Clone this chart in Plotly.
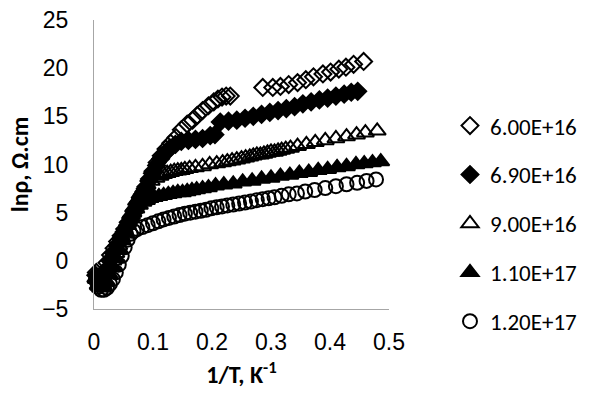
import plotly.graph_objects as go

# 1/T (K^-1) and ln(rho) for five doping levels
labels = ["6.00E+16", "6.90E+16", "9.00E+16", "1.10E+17", "1.20E+17"]

x_a = [0.004, 0.008, 0.012, 0.017, 0.022, 0.028, 0.034, 0.040, 0.046, 0.052,
       0.058, 0.064, 0.070, 0.076, 0.082, 0.088, 0.094, 0.100, 0.107, 0.114,
       0.122, 0.130, 0.139, 0.148, 0.158, 0.167, 0.175, 0.184, 0.194, 0.203,
       0.210, 0.217, 0.224, 0.231, 0.286, 0.303, 0.316, 0.330, 0.345, 0.359,
       0.372, 0.388, 0.401, 0.415, 0.427, 0.440, 0.457]
y_a = [-1.2, -1.9, -2.0, -1.2, -0.2, 0.6, 1.3, 2.0, 2.6, 3.3,
       4.0, 4.6, 5.3, 6.1, 6.9, 7.7, 8.5, 9.3, 10.2, 10.9,
       11.6, 12.2, 12.8, 13.6, 14.2, 14.6, 15.1, 15.6, 16.1, 16.5,
       16.8, 17.0, 17.1, 17.1, 18.0, 18.0, 18.1, 18.3, 18.5, 18.8,
       19.1, 19.4, 19.6, 19.9, 20.1, 20.4, 20.7]

x_b = [0.003, 0.007, 0.011, 0.016, 0.021, 0.027, 0.033, 0.039, 0.045, 0.051,
       0.057, 0.063, 0.069, 0.075, 0.081, 0.087, 0.093, 0.099, 0.106, 0.113,
       0.121, 0.129, 0.138, 0.148, 0.160, 0.172, 0.184, 0.197, 0.205, 0.214,
       0.228, 0.242, 0.256, 0.270, 0.284, 0.298, 0.312, 0.326, 0.340, 0.354,
       0.368, 0.382, 0.396, 0.410, 0.424, 0.436, 0.447]
y_b = [-1.5, -2.2, -2.4, -1.8, -0.9, 0.0, 0.8, 1.6, 2.3, 3.0,
       3.7, 4.4, 5.1, 5.9, 6.7, 7.5, 8.3, 9.1, 9.9, 10.6,
       11.2, 11.7, 12.1, 12.4, 12.5, 12.6, 12.7, 13.0, 13.1, 14.4,
       14.5, 14.6, 14.8, 15.0, 15.2, 15.4, 15.6, 15.8, 16.0, 16.3,
       16.5, 16.7, 16.9, 17.1, 17.3, 17.5, 17.6]

x_c = [0.004, 0.008, 0.012, 0.017, 0.022, 0.027, 0.032, 0.037, 0.042, 0.047,
       0.052, 0.057, 0.062, 0.067, 0.072, 0.078, 0.084, 0.090, 0.097, 0.105,
       0.112, 0.118, 0.124, 0.130, 0.136, 0.142, 0.148, 0.154, 0.162, 0.172,
       0.184, 0.196, 0.208, 0.218, 0.226, 0.234, 0.242, 0.250, 0.257, 0.264,
       0.270, 0.276, 0.282, 0.288, 0.294, 0.300, 0.306, 0.312, 0.318, 0.325,
       0.333, 0.345, 0.360, 0.375, 0.392, 0.410, 0.428, 0.445, 0.460, 0.480]
y_c = [-1.9, -2.6, -2.6, -2.1, -1.4, -0.7, 0.0, 0.8, 1.6, 2.4,
       3.2, 4.0, 4.8, 5.5, 6.2, 6.9, 7.5, 7.9, 8.3, 8.6,
       8.8, 9.0, 9.1, 9.2, 9.3, 9.35, 9.4, 9.5, 9.6, 9.7,
       9.8, 10.0, 10.1, 10.2, 10.3, 10.4, 10.5, 10.6, 10.7, 10.8,
       10.9, 11.0, 11.0, 11.1, 11.2, 11.3, 11.3, 11.4, 11.5, 11.6,
       11.7, 11.9, 12.1, 12.3, 12.5, 12.7, 12.9, 13.1, 13.3, 13.5]

x_d = [0.003, 0.007, 0.011, 0.016, 0.021, 0.026, 0.031, 0.036, 0.041, 0.046,
       0.051, 0.056, 0.061, 0.066, 0.071, 0.077, 0.083, 0.089, 0.095, 0.102,
       0.110, 0.118, 0.126, 0.134, 0.142, 0.150, 0.158, 0.166, 0.174, 0.184,
       0.194, 0.206, 0.220, 0.236, 0.252, 0.268, 0.284, 0.300, 0.316, 0.332,
       0.348, 0.364, 0.380, 0.396, 0.412, 0.428, 0.444, 0.458, 0.472, 0.486]
y_d = [-1.8, -2.5, -2.8, -2.6, -2.1, -1.4, -0.6, 0.3, 1.2, 2.1,
       2.9, 3.7, 4.4, 5.0, 5.4, 5.8, 6.1, 6.3, 6.5, 6.6,
       6.7, 6.8, 6.9, 7.0, 7.1, 7.1, 7.2, 7.3, 7.4, 7.5,
       7.6, 7.8, 7.9, 8.0, 8.2, 8.3, 8.5, 8.6, 8.8, 8.9,
       9.1, 9.2, 9.4, 9.5, 9.7, 9.8, 10.0, 10.1, 10.2, 10.3]

x_e = [0.003, 0.007, 0.012, 0.017, 0.022, 0.027, 0.032, 0.037, 0.042, 0.047,
       0.052, 0.057, 0.062, 0.067, 0.073, 0.082, 0.091, 0.100, 0.109, 0.118,
       0.127, 0.136, 0.145, 0.154, 0.163, 0.172, 0.181, 0.190, 0.199, 0.208,
       0.217, 0.226, 0.236, 0.246, 0.256, 0.266, 0.276, 0.286, 0.296, 0.306,
       0.318, 0.330, 0.344, 0.358, 0.374, 0.392, 0.410, 0.428, 0.446, 0.462,
       0.478]
y_e = [-2.0, -2.7, -3.0, -3.0, -2.8, -2.4, -1.9, -1.2, -0.4, 0.5,
       1.4, 2.2, 2.8, 3.1, 3.3, 3.5, 3.7, 3.9, 4.1, 4.3,
       4.45, 4.6, 4.75, 4.9, 5.0, 5.1, 5.2, 5.3, 5.45, 5.55,
       5.65, 5.75, 5.85, 5.95, 6.05, 6.15, 6.3, 6.4, 6.5, 6.6,
       6.75, 6.9, 7.0, 7.2, 7.35, 7.55, 7.75, 7.95, 8.1, 8.3,
       8.45]

series = [
    (labels[0], x_a, y_a, "diamond-open", 13),
    (labels[1], x_b, y_b, "diamond", 13),
    (labels[2], x_c, y_c, "triangle-up-open", 15),
    (labels[3], x_d, y_d, "triangle-up", 15),
    (labels[4], x_e, y_e, "circle-open", 14),
]

fig = go.Figure()
for i, (name, xs, ys, sym, size) in enumerate(series):
    fig.add_trace(go.Scatter(
        x=xs, y=ys, name=name, mode="markers", legendgroup=f"g{i}",
        cliponaxis=False,
        marker=dict(symbol=sym, size=size, color="black",
                    line=dict(color="black", width=2)),
    ))

axis_font = dict(family="Liberation Sans, Arial, sans-serif", size=23, color="black")
title_font = dict(family="Carlito, Lato, sans-serif", size=24, color="black")

fig.update_layout(
    width=589, height=396,
    margin=dict(l=94, r=200, t=20, b=87, autoexpand=False),
    paper_bgcolor="white", plot_bgcolor="white",
    showlegend=True,
    legend=dict(
        xref="container", yref="container",
        x=0.764, y=0.737, xanchor="left", yanchor="top",
        font=dict(family="Carlito, Lato, sans-serif", size=23, color="black"),
        tracegroupgap=16, bgcolor="rgba(0,0,0,0)", maxheight=320,
    ),
    xaxis=dict(
        range=[0, 0.5], dtick=0.1, tick0=0, showgrid=False, zeroline=False,
        showline=True, linecolor="#A6A6A6", linewidth=1,
        ticks="", tickfont=axis_font, ticklabelstandoff=12,
        title=dict(text="<b>1/T, K<sup>-1</sup></b>", font=title_font, standoff=12),
    ),
    yaxis=dict(
        range=[-5, 25], dtick=5, tick0=-5, showgrid=False, zeroline=False,
        showline=True, linecolor="#A6A6A6", linewidth=1,
        ticks="", tickfont=axis_font, ticklabelstandoff=20,
        title=dict(text="<b>lnρ, Ω.cm</b>", font=title_font, standoff=6),
    ),
)

fig.write_html("out.html")
